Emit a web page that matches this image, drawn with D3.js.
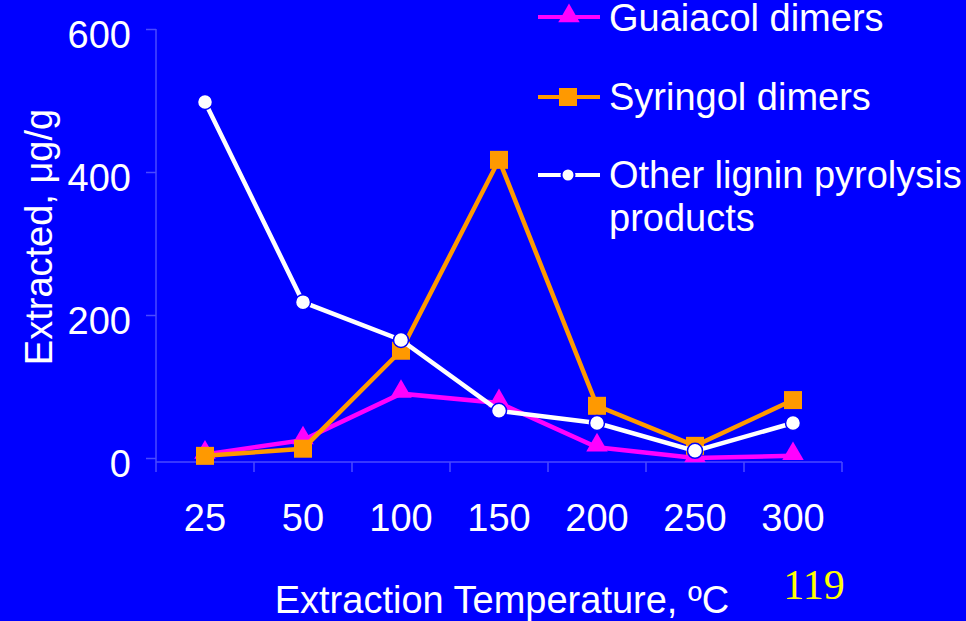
<!DOCTYPE html>
<html><head><meta charset="utf-8">
<script src="https://cdn.jsdelivr.net/npm/d3@7"></script>
<style>html,body{margin:0;padding:0;background:#0000ff;}svg{display:block;}</style>
</head><body>
<svg id="c" width="966" height="621"></svg>
<script>
const categories = ["25","50","100","150","200","250","300"];
const guaiacol = [5, 25, 90, 77, 15, 0, 3];
const syringol = [3, 13, 150, 417, 73, 17, 81];
const other = [498, 218, 165, 66, 49, 10, 49];
const yTicks = [0, 200, 400, 600];
const seriesNames = ["Guaiacol dimers", "Syringol dimers", "Other lignin pyrolysis", "products"];

const svg = d3.select("#c");
const font = "Arial, 'Liberation Sans', sans-serif";
svg.append("rect").attr("width",966).attr("height",621).attr("fill","#0000ff");

const x = d3.scaleBand().domain(categories).range([156, 842]);
const y = d3.scaleLinear().domain([0, 600]).range([458, 29]);
const axisCol = "#4a4aff";

// y axis
const ya = svg.append("g").attr("transform","translate(156,0)")
  .call(d3.axisLeft(y).tickValues(yTicks).tickSize(10).tickPadding(14));
ya.select(".domain").attr("stroke",axisCol).attr("stroke-width",1.5).attr("d","M0,29V462");
ya.selectAll(".tick line").attr("stroke",axisCol).attr("stroke-width",1.5);
ya.selectAll(".tick text").attr("fill","white").attr("font-family",font).attr("font-size",38).attr("dy","0.48em").attr("x",-25);

// x axis
const xa = svg.append("g").attr("transform","translate(0,462)")
  .call(d3.axisBottom(x).tickSize(0).tickPadding(40));
xa.select(".domain").attr("stroke",axisCol).attr("stroke-width",1.5).attr("d","M156,0H842");
xa.selectAll(".tick text").attr("fill","white").attr("font-family",font).attr("font-size",38).attr("dy","0.35em").attr("y",56);
const bounds = categories.map(c => x(c)).concat([842]);
svg.append("g").selectAll("line").data(bounds).join("line")
  .attr("x1",d=>d).attr("x2",d=>d).attr("y1",462).attr("y2",472)
  .attr("stroke",axisCol).attr("stroke-width",1.5);

const cx = c => x(c) + x.bandwidth()/2;
const line = d3.line().x((d,i)=>cx(categories[i])).y(d=>y(d));

// Guaiacol
svg.append("path").datum(guaiacol).attr("d",line).attr("fill","none").attr("stroke","#ff00ff").attr("stroke-width",4.5);
const tri = d3.symbol().type(d3.symbolTriangle).size(200);
svg.append("g").selectAll("path").data(guaiacol).join("path")
  .attr("d",tri).attr("transform",(d,i)=>`translate(${cx(categories[i])},${y(d)-2})`).attr("fill","#ff00ff");

// Syringol
svg.append("path").datum(syringol).attr("d",line).attr("fill","none").attr("stroke","#ff9900").attr("stroke-width",4.5);
svg.append("g").selectAll("rect").data(syringol).join("rect")
  .attr("x",(d,i)=>cx(categories[i])-9).attr("y",d=>y(d)-9).attr("width",18).attr("height",18).attr("fill","#ff9900");

// Other
svg.append("path").datum(other).attr("d",line).attr("fill","none").attr("stroke","white").attr("stroke-width",4.5);
svg.append("g").selectAll("circle").data(other).join("circle")
  .attr("cx",(d,i)=>cx(categories[i])).attr("cy",d=>y(d)).attr("r",7.5)
  .attr("fill","white").attr("stroke","#0000ff").attr("stroke-width",1.5);

// Legend
const lg = svg.append("g");
const rows = [17, 97, 175];
lg.append("line").attr("x1",538).attr("x2",600).attr("y1",rows[0]).attr("y2",rows[0]).attr("stroke","#ff00ff").attr("stroke-width",4);
lg.append("path").attr("d",d3.symbol().type(d3.symbolTriangle).size(200)).attr("transform",`translate(569,${rows[0]-1})`).attr("fill","#ff00ff");
lg.append("line").attr("x1",538).attr("x2",600).attr("y1",rows[1]).attr("y2",rows[1]).attr("stroke","#ff9900").attr("stroke-width",4);
lg.append("rect").attr("x",559).attr("y",rows[1]-9).attr("width",18).attr("height",18).attr("fill","#ff9900");
lg.append("line").attr("x1",538).attr("x2",600).attr("y1",rows[2]).attr("y2",rows[2]).attr("stroke","white").attr("stroke-width",4);
lg.append("circle").attr("cx",568).attr("cy",rows[2]).attr("r",6.5).attr("fill","white").attr("stroke","#0000ff").attr("stroke-width",2);
const lt = [[seriesNames[0],31],[seriesNames[1],110],[seriesNames[2],188],[seriesNames[3],231]];
lg.selectAll("text").data(lt).join("text").attr("x",609).attr("y",d=>d[1]).text(d=>d[0])
  .attr("fill","white").attr("font-family",font).attr("font-size",38);

// Axis titles
svg.append("text").attr("x",502).attr("y",613).attr("text-anchor","middle").text("Extraction Temperature, ºC")
  .attr("fill","white").attr("font-family",font).attr("font-size",38);
svg.append("text").attr("transform","translate(52,237) rotate(-90)").attr("text-anchor","middle").text("Extracted, μg/g")
  .attr("fill","white").attr("font-family",font).attr("font-size",38);
svg.append("text").attr("x",814).attr("y",599).attr("text-anchor","middle").text("119")
  .attr("fill","#ffff00").attr("font-family","'Liberation Serif', 'Times New Roman', serif").attr("font-size",42);
</script>
</body></html>
